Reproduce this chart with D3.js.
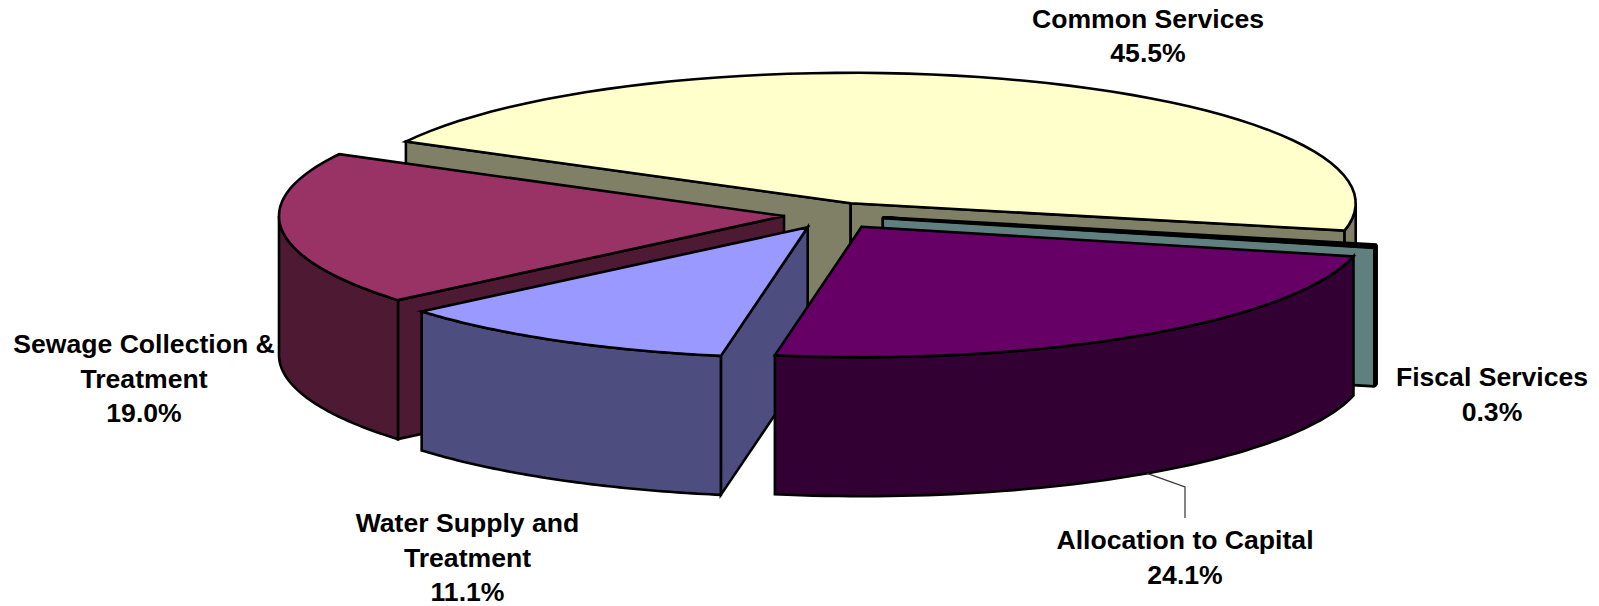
<!DOCTYPE html>
<html>
<head>
<meta charset="utf-8">
<script src="https://cdnjs.cloudflare.com/ajax/libs/d3/7.8.5/d3.min.js"></script>
<style>
  html, body { margin: 0; background: #fff; }
  svg { display: block; }
  .face { stroke: #000; stroke-width: 2.6; stroke-linejoin: miter; }
  .lbl { font-family: "Liberation Sans", Arial, sans-serif; font-weight: bold; font-size: 26.6px; fill: #000; text-anchor: middle; }
</style>
</head>
<body>
<svg id="pie" width="1599" height="606"></svg>
<script>
// values, clockwise from the left end of Common Services
const CATEGORIES = ["Common Services", "Fiscal Services", "Allocation to Capital", "Water Supply and Treatment", "Sewage Collection & Treatment"];
const VALUES = [45.5, 0.3, 24.1, 11.1, 19.0];
const LABEL_LINES = [
  ["Common Services", "45.5%"],
  ["Fiscal Services", "0.3%"],
  ["Allocation to Capital", "24.1%"],
  ["Water Supply and", "Treatment", "11.1%"],
  ["Sewage Collection &", "Treatment", "19.0%"],
];
const TOP_COLORS = ["#ffffcc", "#669999", "#660066", "#9999ff", "#993366"];
const SIDE_COLORS = ["#808066", "#608080", "#330033", "#4d4d80", "#4d1933"];

// layout
const cx = 850.7, cy = 203.3, rx = 505, ry = 130.5, depth = 139;
const startDeg = -61.74;
const EXPLODE = [[0, 0], [32, 14.4], [11, 23.4], [-43, 24], [-66.7, 12.7]];
const LABEL_POS = [[1148, 27.5], [1492, 386], [1185, 549], [467.5, 532], [144, 353]];
const LINE_H = 34.5;
const DRAW_ORDER = [0, 1, 4, 3, 2]; // back to front

const svg = d3.select("#pie");
const x = d3.scaleLinear().domain([-1, 1]).range([-rx, rx]);
const y = d3.scaleLinear().domain([-1, 1]).range([-ry, ry]);

const rad = (d) => (d * Math.PI) / 180;
const slices = d3
  .pie()
  .sort(null)
  .startAngle(rad(startDeg))
  .endAngle(rad(startDeg + 360))(VALUES);

// point on the rim at angle a (clockwise from top), for slice i
const rimPt = (a, i, dz = 0) => [
  cx + EXPLODE[i][0] + x(Math.sin(a)),
  cy + EXPLODE[i][1] + y(-Math.cos(a)) + dz,
];
const apex = (i, dz = 0) => [cx + EXPLODE[i][0], cy + EXPLODE[i][1] + dz];
const line = d3.line();
const arcPts = (a0, a1, i, dz) =>
  d3.range(0, 61).map((k) => rimPt(a0 + ((a1 - a0) * k) / 60, i, dz));

const g = svg.append("g");

DRAW_ORDER.forEach((i) => {
  const s = slices[i];
  const a0 = s.startAngle, a1 = s.endAngle;
  const isThin = VALUES[i] < 1;
  const face = (pts, fill, w) =>
    g.append("path").attr("class", "face").attr("fill", fill)
      .style("stroke-width", w)
      .style("stroke-linejoin", isThin ? "bevel" : null)
      .attr("d", line(pts) + "Z");

  // radial walls, only the ones facing the viewer
  if (Math.sin(a0) < 0) face([apex(i), rimPt(a0, i), rimPt(a0, i, depth), apex(i, depth)], SIDE_COLORS[i]);
  if (Math.sin(a1) > 0) face([apex(i), rimPt(a1, i), rimPt(a1, i, depth), apex(i, depth)], SIDE_COLORS[i], isThin ? 2.8 : null);

  // outer rim, front half of the ellipse only
  const r0 = Math.max(a0, Math.PI / 2), r1 = Math.min(a1, (3 * Math.PI) / 2);
  if (r1 > r0) face(arcPts(r0, r1, i, 0).concat(arcPts(r1, r0, i, depth)), SIDE_COLORS[i], isThin ? 2.8 : null);

  // top face
  face([apex(i), ...arcPts(a0, a1, i, 0)], TOP_COLORS[i], isThin ? 3.6 : null);
});

// leader line for Allocation to Capital
const leadStart = rimPt(rad(145.6), 2, depth);
svg.append("path")
  .attr("fill", "none").attr("stroke", "#333").attr("stroke-width", 1.2)
  .attr("d", line([leadStart, [1185, 487], [1185, 518]]));

// labels
CATEGORIES.forEach((c, i) => {
  const t = svg.append("text").attr("class", "lbl");
  LABEL_LINES[i].forEach((txt, k) => {
    t.append("tspan")
      .attr("x", LABEL_POS[i][0])
      .attr("y", LABEL_POS[i][1] + k * LINE_H)
      .text(txt);
  });
});
</script>
</body>
</html>
